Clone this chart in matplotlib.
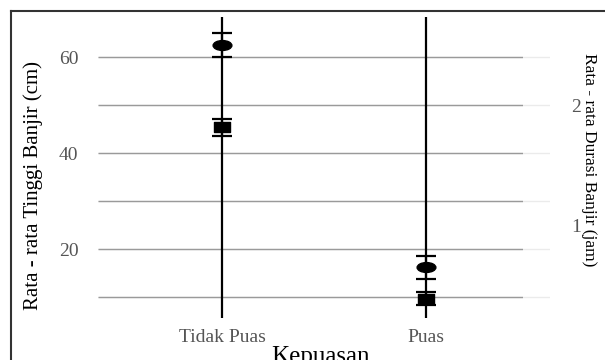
import matplotlib
matplotlib.use("Agg")
import matplotlib.pyplot as plt
from matplotlib.path import Path
from matplotlib.lines import Line2D

# data
kepuasan = ["Tidak Puas", "Puas"]
tinggi_mean = [62.6, 16.2]          # cm
tinggi_low = [60.1, 13.8]
tinggi_high = [65.1, 18.6]
durasi_mean = [1.82, 0.38]          # jam
durasi_low = [1.74, 0.33]
durasi_high = [1.88, 0.44]
range_low = [5.6, 5.6]              # long vertical lines (cm)
range_high = [68.3, 68.4]
left_ticks = [20, 40, 60]
grid_ticks = [10, 20, 30, 40, 50, 60]
right_ticks = [1, 2]
scale = 25                          # cm per jam on the secondary axis

W, H = 605, 360
plt.rcParams["font.family"] = ["Liberation Serif", "DejaVu Serif"]

fig = plt.figure(figsize=(W / 100, H / 100), dpi=100)

def box(x0, y0, x1, y1):
    # pixel box (top-left origin) -> figure fraction rect
    return [x0 / W, 1 - y1 / H, (x1 - x0) / W, (y1 - y0) / H]

ylim = (4.8, 69.4)

# background panel with light grid + right axis
bg = fig.add_axes(box(98, 12, 550, 322))
bg.set_ylim(ylim)
bg.set_xlim(0, 1)
for s in bg.spines.values():
    s.set_visible(False)
bg.set_xticks([])
bg.hlines(grid_ticks, 0, 1, color="#ebebeb", lw=1, zorder=0)
bg.yaxis.tick_right()
bg.set_yticks([t * scale for t in right_ticks])
bg.set_yticklabels([str(t) for t in right_ticks])
bg.tick_params(axis="y", length=0, pad=15, labelsize=14, labelcolor="#555555")

# main panel
ax = fig.add_axes(box(98, 12, 523, 322))
ax.patch.set_alpha(0)
x = list(range(len(kepuasan)))
ax.set_xlim(-0.608, 1.475)
ax.set_ylim(ylim)
for s in ax.spines.values():
    s.set_visible(False)
ax.hlines(grid_ticks, -0.608, 1.475, color="#9a9a9a", lw=1, zorder=1)

ax.vlines(x, range_low, range_high, color="black", lw=1.6, zorder=2)

circ = Path.unit_circle()
ellipse = Path(circ.vertices * [1.9, 1.0], circ.codes)
rect = Path([(-0.7, -0.5), (0.7, -0.5), (0.7, 0.5), (-0.7, 0.5), (-0.7, -0.5)],
            [Path.MOVETO, Path.LINETO, Path.LINETO, Path.LINETO, Path.CLOSEPOLY])

t_err = [[m - l for m, l in zip(tinggi_mean, tinggi_low)],
         [h - m for m, h in zip(tinggi_mean, tinggi_high)]]
ax.errorbar(x, tinggi_mean, yerr=t_err, fmt="none", ecolor="black",
            elinewidth=1.6, capsize=7.5, capthick=1.6, zorder=3)
ax.plot(x, tinggi_mean, ls="none", marker=ellipse, ms=13.5, color="black", zorder=4)

d_mean = [v * scale for v in durasi_mean]
d_err = [[(m - l) * scale for m, l in zip(durasi_mean, durasi_low)],
         [(h - m) * scale for m, h in zip(durasi_mean, durasi_high)]]
ax.errorbar(x, d_mean, yerr=d_err, fmt="none", ecolor="black",
            elinewidth=1.6, capsize=7.5, capthick=1.6, zorder=3)
ax.plot(x, d_mean, ls="none", marker=rect, ms=11, color="black", zorder=4)

ax.set_yticks(left_ticks)
ax.set_yticklabels([str(t) for t in left_ticks])
ax.set_xticks(x)
ax.set_xticklabels(kepuasan)
ax.tick_params(axis="both", length=0, labelsize=14, labelcolor="#555555")
ax.tick_params(axis="y", pad=14)
ax.tick_params(axis="x", pad=5)

fig.text(320 / W, 1 - 346 / H, "Kepuasan", ha="center", va="top", fontsize=18)
fig.text(33 / W, 1 - 186 / H, "Rata - rata Tinggi Banjir (cm)", rotation=90,
         ha="center", va="center", fontsize=15)
fig.text(589 / W, 1 - 160 / H, "Rata - rata Durasi Banjir (jam)", rotation=-90,
         ha="center", va="center", fontsize=12.5)

# outer frame (left and top edges visible in the crop)
fx, fy = 11.5 / W, 1 - 11 / H
fig.add_artist(Line2D([fx, fx], [0, fy], color="#333333", lw=1.5))
fig.add_artist(Line2D([fx, 1], [fy, fy], color="#333333", lw=1.5))

fig.savefig("out.png", dpi=100)
